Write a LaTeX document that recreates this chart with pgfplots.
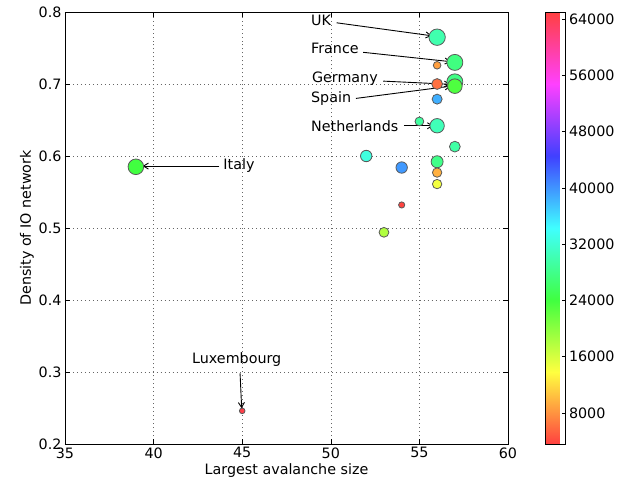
\documentclass[border=0pt]{standalone}
\usepackage{fontspec}
\setmainfont{DejaVu Sans}
\usepackage{pgfplots}
\usepackage{pgfplotstable}
\pgfplotsset{compat=1.18}
\usetikzlibrary{arrows.meta}
\pgfplotsset{/pgf/number format/assume math mode=true}

\pgfplotstableread{
x y c r
56 0.726 8700 3.8
57 0.613 29500 5.4
55 0.648 29200 4.4
56 0.679 38600 5.0
52 0.600 32600 5.7
54 0.584 39800 5.7
56 0.592 28000 6.0
56 0.577 9600 4.7
56 0.561 14500 4.7
54 0.532 3800 3.1
53 0.494 18000 4.9
45 0.246 64500 2.8
56 0.642 30500 7.2
56 0.765 30000 8.2
57 0.730 27500 8.0
56 0.700 6200 5.4
57 0.703 27800 8.0
57 0.697 23300 7.3
39 0.585 24000 7.8
}\datatable

\begin{document}
\begin{tikzpicture}[font=\fontsize{14.3bp}{17bp}\selectfont]
\path[use as bounding box] (-65bp,-38bp) rectangle (556bp,444bp);
\begin{axis}[
  at={(0,0)}, anchor=south west,
  scale only axis, width=443bp, height=432bp,
  xmin=35, xmax=60, ymin=0.2, ymax=0.8,
  xtick={35,40,...,60}, ytick={0.2,0.3,...,0.8},
  yticklabel style={/pgf/number format/.cd, fixed, precision=1},
  grid=major,
  grid style={black!60, line width=0.5pt, dash pattern=on 1pt off 3pt},
  tick align=inside,
  major tick length=5bp,
  tick style={black, line width=0.6pt},
  axis line style={black, line width=0.9pt},
  xlabel={Largest avalanche size},
  ylabel={Density of IO network},
  xlabel style={yshift=2bp},
  ylabel style={yshift=-2bp},
  colormap={softhsv}{rgb255=(255,64,64) rgb255=(255,255,64) rgb255=(64,255,64) rgb255=(64,255,255) rgb255=(64,64,255) rgb255=(255,64,255) rgb255=(255,64,64)},
  point meta min=3600, point meta max=65000,
  colorbar,
  colorbar style={
    at={(parent axis.north east)}, anchor=north west, xshift=29bp,
    scale only axis, width=20bp, height=432bp,
    ytick={8000,16000,...,64000},
    yticklabel style={/pgf/number format/.cd, 1000 sep={}, fixed},
    scaled y ticks=false,
    tick align=inside,
    major tick length=4bp,
    ytick pos=right,
    yticklabel pos=right,
    axis line style={black, line width=0.9pt},
  },
]
\addplot[scatter, only marks, mark=*,
  scatter src=explicit,
  scatter/use mapped color={draw=black!65, fill=mapped color},
  visualization depends on={\thisrow{r}\as\rad},
  scatter/@pre marker code/.append style={/tikz/mark size=\rad bp},
  mark options={line width=0.8pt}]
  table[x=x, y=y, meta=c]{\datatable};

\begin{scope}[inner sep=0pt]
\node[anchor=west] at (axis cs:48.88,0.789) {UK};
\node[anchor=west] at (axis cs:48.88,0.749) {France};
\node[anchor=west] at (axis cs:48.93,0.708) {Germany};
\node[anchor=west] at (axis cs:48.88,0.680) {Spain};
\node[anchor=west] at (axis cs:48.88,0.641) {Netherlands};
\node[anchor=west] at (axis cs:43.93,0.587) {Italy};
\node at (axis cs:44.69,0.317) {Luxembourg};
\end{scope}
\begin{scope}[-{Straight Barb[length=5bp,width=6bp]}, line width=0.9pt, black]
\draw (axis cs:50.33,0.785) -- (axis cs:55.69,0.767);
\draw (axis cs:51.83,0.744) -- (axis cs:56.77,0.731);
\draw (axis cs:52.96,0.704) -- (axis cs:56.73,0.6996);
\draw (axis cs:51.42,0.680) -- (axis cs:56.77,0.697);
\draw (axis cs:54.13,0.642) -- (axis cs:55.78,0.642);
\draw (axis cs:43.71,0.586) -- (axis cs:39.38,0.586);
\draw (axis cs:44.88,0.298) -- (axis cs:44.97,0.2496);
\end{scope}
\end{axis}
\end{tikzpicture}
\end{document}
